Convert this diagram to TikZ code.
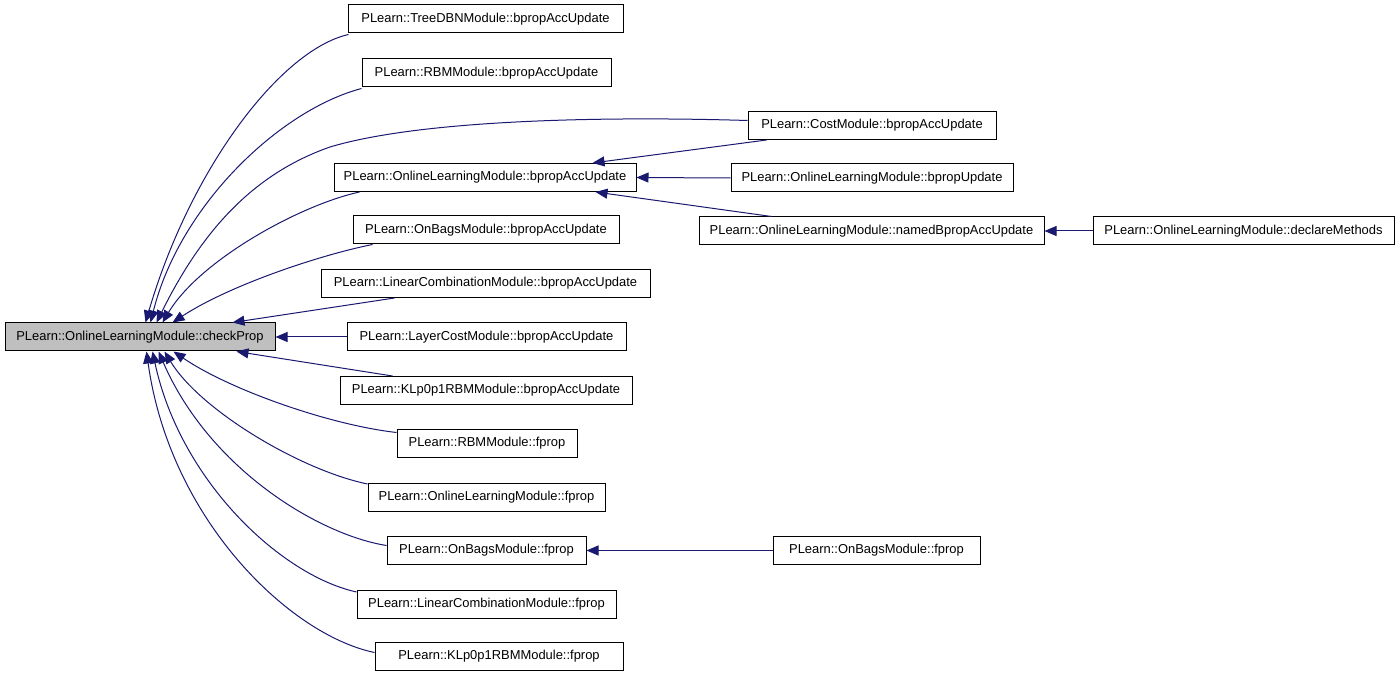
\documentclass[tikz,border=0pt]{standalone}
\usepackage{fontspec}
\setmainfont{Liberation Sans}
\usetikzlibrary{arrows.meta,calc}
\definecolor{edgeblue}{HTML}{191970}
\definecolor{mainfill}{HTML}{BFBFBF}
\tikzset{
  fn/.style={draw=black,line width=0.75pt,fill=white,rectangle,inner sep=0pt,
    minimum height=21pt,font=\fontsize{9.7}{11}\selectfont},
  mainfn/.style={fn,fill=mainfill},
  call/.style={draw=edgeblue,line width=0.75pt,-{Triangle[length=9pt,width=7.5pt]}}
}
\begin{document}
\begin{tikzpicture}[x=0.75pt,y=-0.75pt]
\useasboundingbox (0,0) rectangle (1397,677);
% nodes
\node[mainfn,minimum width=202.5pt] (main) at (140,337) {PLearn::OnlineLearningModule::checkProp};
\node[fn,minimum width=206.25pt] (tree) at (485.5,19) {PLearn::TreeDBNModule::bpropAccUpdate};
\node[fn,minimum width=186.75pt] (rbmb) at (486.5,73) {PLearn::RBMModule::bpropAccUpdate};
\node[fn,minimum width=226.5pt] (olmb) at (485,177.5) {PLearn::OnlineLearningModule::bpropAccUpdate};
\node[fn,minimum width=199.5pt] (onbb) at (486,230) {PLearn::OnBagsModule::bpropAccUpdate};
\node[fn,minimum width=246.75pt] (lcb) at (485.5,283.5) {PLearn::LinearCombinationModule::bpropAccUpdate};
\node[fn,minimum width=209.25pt] (lcost) at (486.5,337) {PLearn::LayerCostModule::bpropAccUpdate};
\node[fn,minimum width=219pt] (klb) at (486,390.5) {PLearn::KLp0p1RBMModule::bpropAccUpdate};
\node[fn,minimum width=135pt] (rbmf) at (487,443.5) {PLearn::RBMModule::fprop};
\node[fn,minimum width=177.75pt] (olmf) at (486.5,497) {PLearn::OnlineLearningModule::fprop};
\node[fn,minimum width=149.25pt] (onbf) at (486.5,550.5) {PLearn::OnBagsModule::fprop};
\node[fn,minimum width=194.25pt] (lcf) at (486.5,604) {PLearn::LinearCombinationModule::fprop};
\node[fn,minimum width=186pt] (klf) at (499,656.5) {PLearn::KLp0p1RBMModule::fprop};
\node[fn,minimum width=186pt] (cost) at (872,125.5) {PLearn::CostModule::bpropAccUpdate};
\node[fn,minimum width=211.5pt] (olmbu) at (872,178) {PLearn::OnlineLearningModule::bpropUpdate};
\node[fn,minimum width=258.75pt] (named) at (871.5,231) {PLearn::OnlineLearningModule::namedBpropAccUpdate};
\node[fn,minimum width=225.75pt] (decl) at (1243.5,231) {PLearn::OnlineLearningModule::declareMethods};
\node[fn,minimum width=155.25pt] (onbf2) at (876.5,550.5) {PLearn::OnBagsModule::fprop};
% tips on main box
\coordinate (t1) at ($(main.north west)+(141,0)$);
\coordinate (t2) at ($(main.north west)+(146,0)$);
\coordinate (t3) at ($(main.north west)+(152,0)$);
\coordinate (t4) at ($(main.north west)+(158,0)$);
\coordinate (t5) at ($(main.north west)+(168,0)$);
\coordinate (t6) at ($(main.north west)+(228,0)$);
\coordinate (b6) at ($(main.south west)+(232,0)$);
\coordinate (b5) at ($(main.south west)+(169,0)$);
\coordinate (b4) at ($(main.south west)+(160,0)$);
\coordinate (b3) at ($(main.south west)+(154,0)$);
\coordinate (b2) at ($(main.south west)+(148,0)$);
\coordinate (b1) at ($(main.south west)+(142,0)$);
% edges into checkProp (top)
\draw[call] ($(tree.south west)+(1,1)$) .. controls (280,50) and (190,170) .. (t1);
\draw[call] ($(rbmb.south west)+(0,1)$) .. controls (280,110) and (180,205) .. (t2);
\draw[call] ($(cost.west)+(0,-5)$) .. controls (600,116) and (420,120) .. (330,147)
  .. controls (250,175) and (200,235) .. (t3);
\draw[call] ($(olmb.south west)+(26,0)$) .. controls (300,205) and (200,260) .. (t4);
\draw[call] ($(onbb.south west)+(20,0)$) .. controls (320,255) and (230,285) .. (t5);
\draw[call] ($(lcb.south west)+(74,0)$) -- (t6);
\draw[call] (lcost.west) -- (main.east);
% edges into checkProp (bottom)
\draw[call] ($(klb.north west)+(53,0)$) -- (b6);
\draw[call] ($(rbmf.west)+(0,-11)$) .. controls (330,425) and (230,390) .. (b5);
\draw[call] ($(olmf.west)+(0,-13)$) .. controls (300,470) and (200,410) .. (b4);
\draw[call] ($(onbf.west)+(0,-5)$) .. controls (320,535) and (210,470) .. (b3);
\draw[call] ($(lcf.west)+(0,-12)$) .. controls (280,575) and (180,480) .. (b2);
\draw[call] ($(klf.west)+(0,-4)$) .. controls (290,635) and (170,520) .. (b1);
% other edges
\draw[call] ($(cost.south west)+(19,0)$) -- ($(olmb.north east)+(-44,0)$);
\draw[call] (olmbu.west) -- (olmb.east);
\draw[call] ($(named.north west)+(73,0)$) -- ($(olmb.south east)+(-41,0)$);
\draw[call] (decl.west) -- (named.east);
\draw[call] (onbf2.west) -- (onbf.east);
\end{tikzpicture}
\end{document}
